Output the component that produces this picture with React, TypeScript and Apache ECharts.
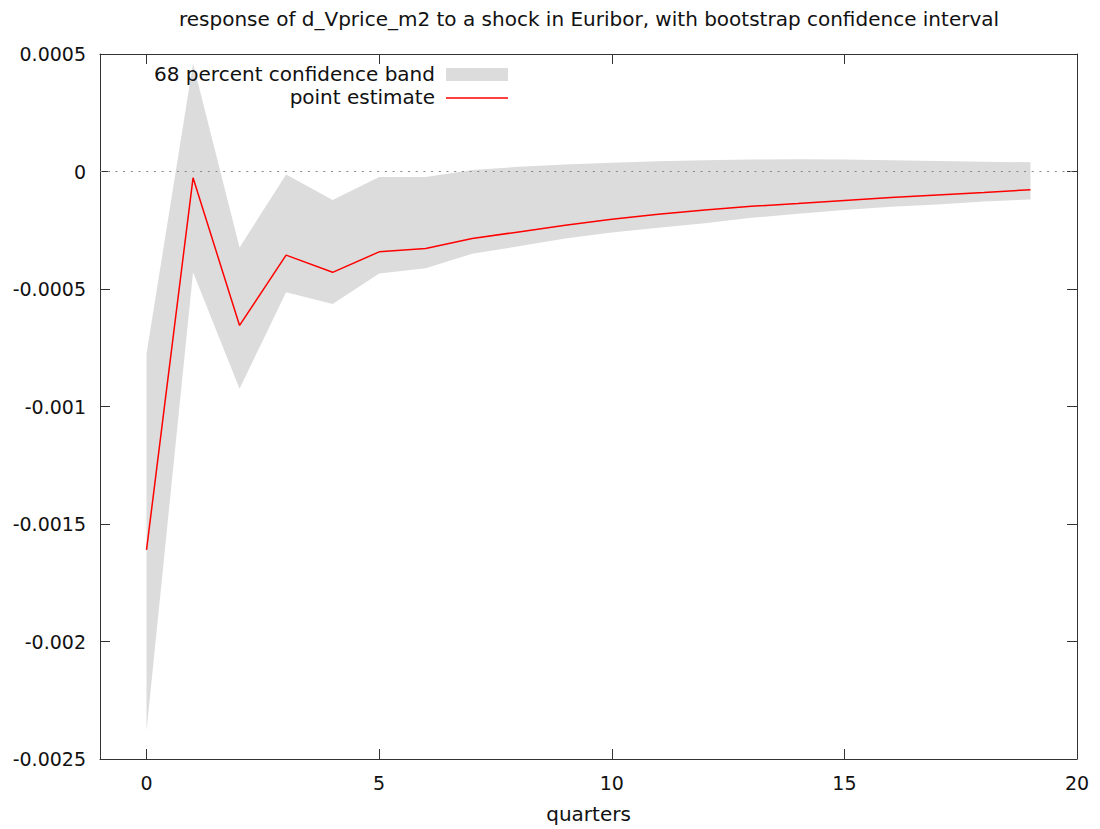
import React, { useEffect, useRef } from "react";
import * as echarts from "echarts";

const quarters = [0, 1, 2, 3, 4, 5, 6, 7, 8, 9, 10, 11, 12, 13, 14, 15, 16, 17, 18, 19];
const pointEstimate = [
  -0.00161, -0.000027, -0.000655, -0.000356, -0.000429, -0.000342, -0.000328, -0.000285,
  -0.000257, -0.000229, -0.000203, -0.000182, -0.000164, -0.000148, -0.000136, -0.000123,
  -0.000111, -0.0001, -0.000089, -0.0000776,
];
const upperBand = [
  -0.000775, 0.00046, -0.000323, -0.000013, -0.000121, -0.000023, -0.000023, 0.000006,
  0.00002, 0.00003, 0.000037, 0.000044, 0.000048, 0.000051, 0.000052, 0.000051, 0.000048,
  0.000045, 0.000042, 0.000039,
];
const lowerBand = [
  -0.00238, -0.000429, -0.000924, -0.000514, -0.000564, -0.000434, -0.000412, -0.00035,
  -0.000318, -0.000285, -0.00026, -0.000239, -0.00022, -0.000197, -0.00018, -0.000164,
  -0.00015, -0.00014, -0.000128, -0.000119,
];
const xTicks = [0, 5, 10, 15, 20];

const TITLE = "response of d_Vprice_m2 to a shock in Euribor, with bootstrap confidence interval";
const BAND_LABEL = "68 percent confidence band";
const LINE_LABEL = "point estimate";
const FONT = "DejaVu Sans";
const FS = 19;
const FS_TEXT = 20;
const TEXT = "#111";
const AXIS = "#333";
const BAND = "#dcdcdc";
const RED = "#ff0000";

export default function App() {
  const ref = useRef<HTMLDivElement>(null);
  useEffect(() => {
    document.body.style.margin = "0";
    if (!ref.current) return;
    const chart = echarts.init(ref.current, null, { renderer: "svg" });
    const bandData = quarters.map((q, i) => [q, upperBand[i], lowerBand[i]]);
    const pointData = quarters.map((q, i) => [q, pointEstimate[i]]);
    const xCommon = {
      type: "value",
      min: -1,
      max: 20,
      axisLine: { show: true, onZero: false, lineStyle: { color: AXIS, width: 1 } },
      splitLine: { show: false },
    };
    const yCommon = {
      type: "value",
      min: -0.0025,
      max: 0.0005,
      interval: 0.0005,
      axisLine: { show: true, onZero: false, lineStyle: { color: AXIS, width: 1 } },
      splitLine: { show: false },
    };
    chart.setOption({
      animation: false,
      textStyle: { fontFamily: FONT },
      grid: { left: 100, right: 23, top: 54, bottom: 67, containLabel: false },
      xAxis: [
        {
          ...xCommon,
          position: "bottom",
          name: "quarters",
          nameLocation: "middle",
          nameGap: 45,
          nameTextStyle: { fontFamily: FONT, fontSize: FS_TEXT, color: TEXT },
          axisTick: { show: true, inside: true, length: 10, customValues: xTicks, lineStyle: { color: AXIS } },
          axisLabel: {
            show: true,
            margin: 14,
            customValues: xTicks,
            fontFamily: FONT,
            fontSize: FS,
            color: TEXT,
            formatter: (v: number) => (v < 0 ? "" : String(v)),
          },
        },
        {
          ...xCommon,
          position: "top",
          axisTick: { show: true, inside: true, length: 10, customValues: xTicks, lineStyle: { color: AXIS } },
          axisLabel: { show: false },
        },
      ],
      yAxis: [
        {
          ...yCommon,
          position: "left",
          axisTick: { show: true, inside: true, length: 10, lineStyle: { color: AXIS } },
          axisLabel: {
            show: true,
            margin: 14,
            fontFamily: FONT,
            fontSize: FS,
            color: TEXT,
            formatter: (v: number) => String(parseFloat(v.toPrecision(6))),
          },
        },
        {
          ...yCommon,
          position: "right",
          axisTick: { show: true, inside: true, length: 10, lineStyle: { color: AXIS } },
          axisLabel: { show: false },
        },
      ],
      graphic: [
        {
          type: "text",
          x: 589,
          y: 19,
          style: { text: TITLE, fontFamily: FONT, fontSize: FS_TEXT, fill: TEXT, align: "center", verticalAlign: "middle" },
          z: 100,
        },
        {
          type: "text",
          x: 435,
          y: 74,
          style: { text: BAND_LABEL, fontFamily: FONT, fontSize: FS_TEXT, fill: TEXT, align: "right", verticalAlign: "middle" },
          z: 100,
        },
        {
          type: "rect",
          shape: { x: 446, y: 68, width: 62, height: 13 },
          style: { fill: BAND },
          z: 100,
        },
        {
          type: "text",
          x: 435,
          y: 97,
          style: { text: LINE_LABEL, fontFamily: FONT, fontSize: FS_TEXT, fill: TEXT, align: "right", verticalAlign: "middle" },
          z: 100,
        },
        {
          type: "line",
          shape: { x1: 446, y1: 98, x2: 508, y2: 98 },
          style: { stroke: RED, lineWidth: 1.5 },
          z: 100,
        },
      ],
      series: [
        {
          type: "custom",
          name: BAND_LABEL,
          data: bandData,
          encode: { x: 0, y: [1, 2] },
          silent: true,
          renderItem: (params: any, api: any) => {
            if (params.dataIndex !== 0) return null;
            const pts: number[][] = [];
            for (let i = 0; i < quarters.length; i++) pts.push(api.coord([quarters[i], upperBand[i]]));
            for (let i = quarters.length - 1; i >= 0; i--) pts.push(api.coord([quarters[i], lowerBand[i]]));
            return { type: "polygon", shape: { points: pts }, style: { fill: BAND } };
          },
        },
        {
          type: "line",
          name: LINE_LABEL,
          data: pointData,
          symbol: "none",
          silent: true,
          lineStyle: { color: RED, width: 1.5 },
          markLine: {
            silent: true,
            symbol: "none",
            label: { show: false },
            lineStyle: { color: "#888", type: [2, 5.7], width: 1.2 },
            data: [{ yAxis: 0 }],
          },
        },
      ],
    });
    return () => chart.dispose();
  }, []);
  return <div ref={ref} style={{ width: 1100, height: 829 }} />;
}
